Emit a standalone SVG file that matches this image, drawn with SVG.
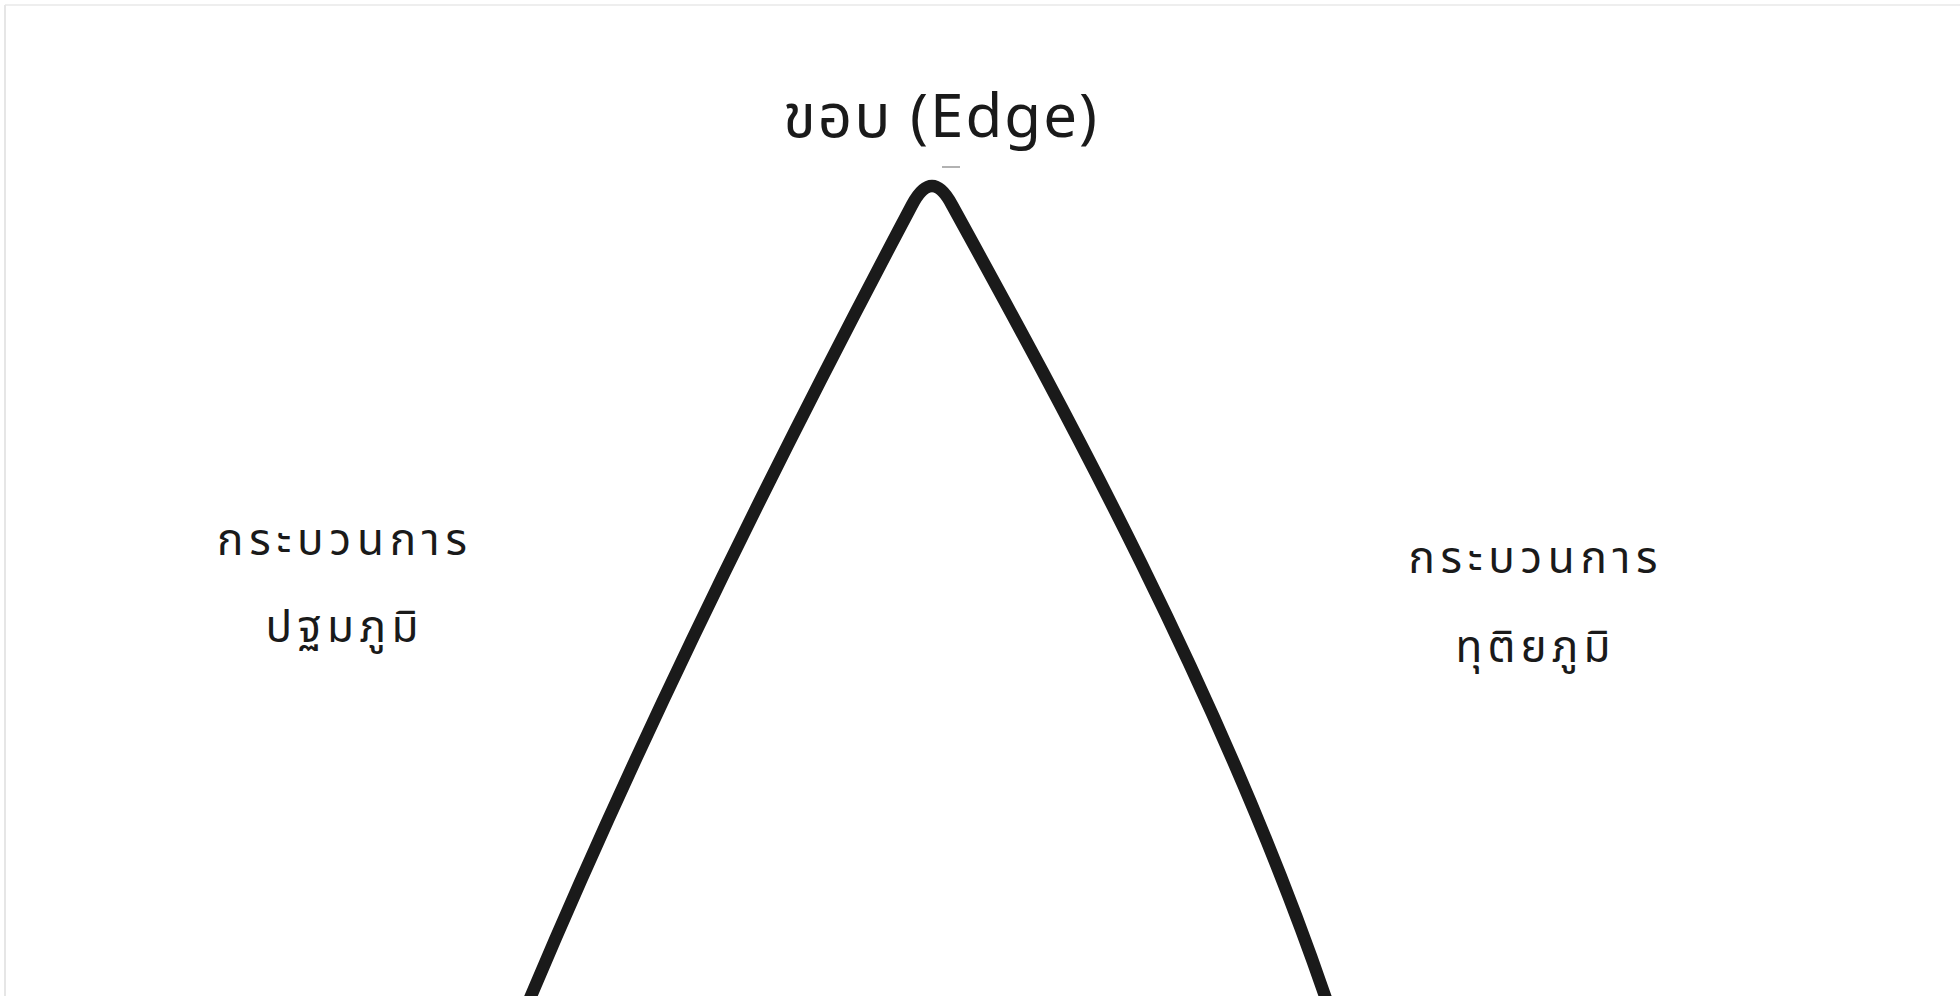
<svg xmlns="http://www.w3.org/2000/svg" width="1960" height="996" viewBox="0 0 1960 996">
<style>
.t{font-family:"Noto Sans Thai","Noto Sans","Liberation Sans",sans-serif;fill:#1a1a1a;text-anchor:middle}
.lbl{font-size:44px}
.ttl{font-size:60px}
</style>
<rect width="1960" height="996" fill="#ffffff"/>
<g id="frame">
<line x1="5" y1="5" x2="1960" y2="5" stroke="#eeeeee" stroke-width="2"/>
<line x1="5" y1="5" x2="5" y2="996" stroke="#e6e6e6" stroke-width="2"/>
</g>
<g id="connectors">
<path d="M525,1010 L531,996 C660,690 806,405 912,205 Q932,167 952,205 C1062,405 1222,696 1325,996 L1330,1010" fill="none" stroke="#1a1a1a" stroke-width="12.5" stroke-linejoin="round" stroke-linecap="round"/>
<line x1="942" y1="167" x2="960" y2="167" stroke="#999" stroke-width="1.5"/>
</g>
<g id="title">
<text class="t ttl" x="940" y="137" textLength="314" lengthAdjust="spacing">ขอบ (Edge)</text>
</g>
<g id="left">
<text class="t lbl" x="342" y="555" textLength="250" lengthAdjust="spacing">กระบวนการ</text>
<text class="t lbl" x="342" y="642" textLength="153" lengthAdjust="spacing">ปฐมภูมิ</text>
</g>
<g id="right">
<text class="t lbl" x="1533" y="573" textLength="249" lengthAdjust="spacing">กระบวนการ</text>
<text class="t lbl" x="1533" y="662" textLength="155" lengthAdjust="spacing">ทุติยภูมิ</text>
</g>
</svg>
